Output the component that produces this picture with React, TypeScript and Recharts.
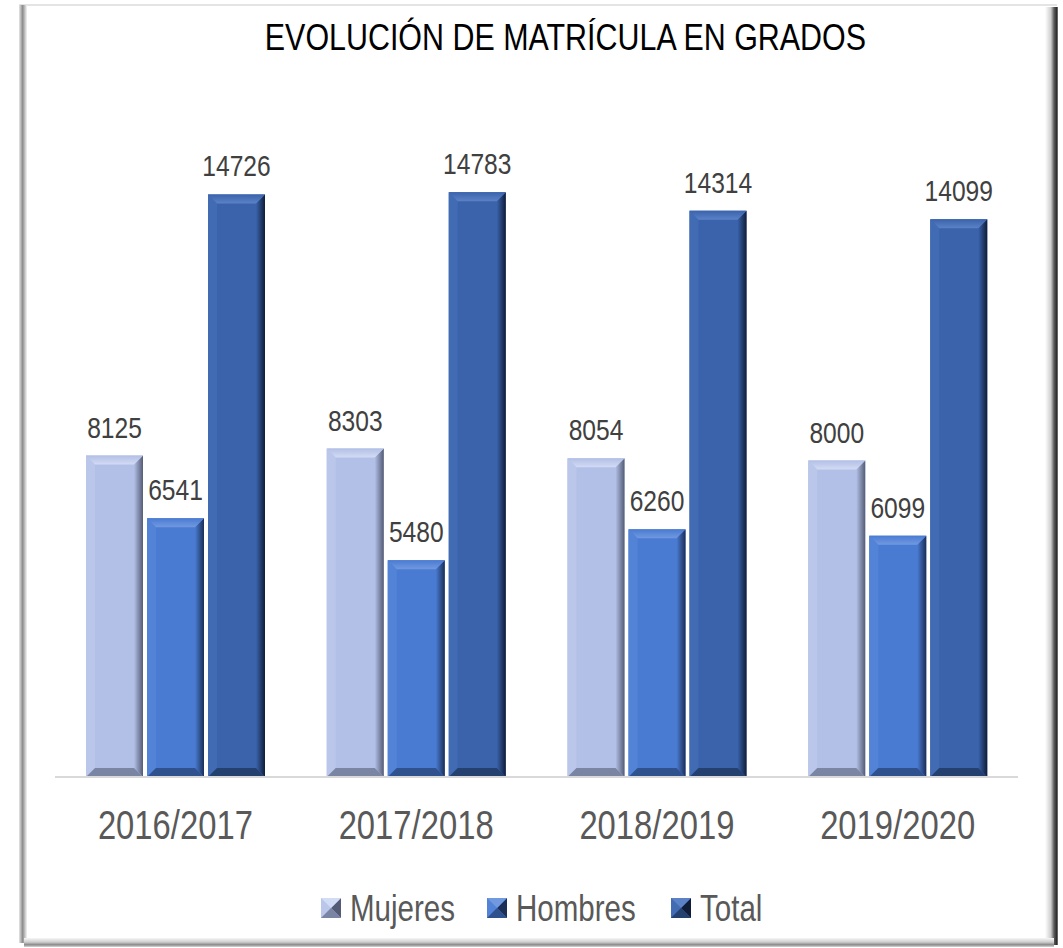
import React from 'react';
import { BarChart, Bar, XAxis, YAxis, Legend, LabelList } from 'recharts';

const years = ['2016/2017', '2017/2018', '2018/2019', '2019/2020'];
const mujeres = [8125, 8303, 8054, 8000];
const hombres = [6541, 5480, 6260, 6099];
const total = [14726, 14783, 14314, 14099];

const seriesNames = ['Mujeres', 'Hombres', 'Total'];

const data = years.map((year, i) => ({
  year,
  Mujeres: mujeres[i],
  Hombres: hombres[i],
  Total: total[i],
}));

// no narrow font installed, so Liberation Sans gets squeezed horizontally
const FONT = "'Liberation Sans', Arial, sans-serif";
const NARROW = 0.82;

// colours for each bevelled bar: face, top, left, right (dark), bottom
const palette: Record<string, { face: string; top: string; left: string; right: string; bottom: string }> = {
  Mujeres: { face: '#b2bfe6', top: '#d3dcf5', left: '#bac6ea', right: '#545c75', bottom: '#7a84a3' },
  Hombres: { face: '#4a7bd2', top: '#7199e0', left: '#5283d6', right: '#1b2f57', bottom: '#2f528f' },
  Total: { face: '#3a63ac', top: '#5b82c6', left: '#416bb3', right: '#0f1d38', bottom: '#24406f' },
};

function bevelShape(name: string) {
  const c = palette[name];
  return (props: any) => {
    const { x, y, width: w, height: h } = props;
    if (!h || h <= 0) return null;
    const b = Math.min(9, w / 4, h / 3);
    const gid = `grad-${name}`;
    const tid = `tgrad-${name}`;
    return (
      <g>
        <defs>
          <linearGradient id={gid} x1="0" y1="0" x2="1" y2="0">
            <stop offset="0" stopColor={c.face} />
            <stop offset="1" stopColor={c.right} />
          </linearGradient>
          <linearGradient id={tid} x1="0" y1="0" x2="0" y2="1">
            <stop offset="0" stopColor={c.face} />
            <stop offset="1" stopColor={c.top} />
          </linearGradient>
        </defs>
        <rect x={x} y={y} width={w} height={h} fill={c.face} />
        <polygon points={`${x},${y} ${x + b},${y + b} ${x + b},${y + h - b} ${x},${y + h}`} fill={c.left} />
        <polygon
          points={`${x + w},${y} ${x + w},${y + h} ${x + w - b},${y + h - b} ${x + w - b},${y + b}`}
          fill={`url(#${gid})`}
        />
        <polygon points={`${x},${y + h} ${x + w},${y + h} ${x + w - b},${y + h - b} ${x + b},${y + h - b}`} fill={c.bottom} />
        <polygon points={`${x},${y} ${x + w},${y} ${x + w - b},${y + b} ${x + b},${y + b}`} fill={`url(#${tid})`} />
      </g>
    );
  };
}

function YearTick(props: any) {
  const { x, y, payload } = props;
  return (
    <g transform={`translate(${x},${y})`}>
      <text
        transform={`scale(${NARROW},1)`}
        textAnchor="middle"
        dy="0.71em"
        fontSize={40}
        fill="#595959"
        fontFamily={FONT}
      >
        {payload.value}
      </text>
    </g>
  );
}

function ValueLabel(props: any) {
  const { x, y, width, value } = props;
  return (
    <g transform={`translate(${x + width / 2},${y - 18})`}>
      <text transform={`scale(${NARROW},1)`} textAnchor="middle" fontSize={30} fill="#404040" fontFamily={FONT}>
        {value}
      </text>
    </g>
  );
}

function LegendIcon({ name }: { name: string }) {
  const c = palette[name];
  const s = 20;
  return (
    <svg width={s} height={s} style={{ display: 'block' }}>
      <rect x={0} y={0} width={s} height={s} fill={c.face} />
      <polygon points={`0,0 ${s / 2},${s / 2} 0,${s}`} fill={c.left} />
      <polygon points={`${s},0 ${s},${s} ${s / 2},${s / 2}`} fill={c.right} />
      <polygon points={`0,${s} ${s},${s} ${s / 2},${s / 2}`} fill={c.bottom} />
      <polygon points={`0,0 ${s},0 ${s / 2},${s / 2}`} fill={c.top} />
    </svg>
  );
}

const legendTextWidth: Record<string, number> = { Mujeres: 106, Hombres: 124, Total: 66 };

function renderLegend() {
  return (
    <div
      style={{
        height: 40,
        display: 'flex',
        justifyContent: 'center',
        alignItems: 'center',
        paddingLeft: 14,
        fontFamily: FONT,
        fontSize: 36,
        color: '#595959',
      }}
    >
      {seriesNames.map((n, i) => (
        <div key={n} style={{ display: 'flex', alignItems: 'center', marginLeft: i === 0 ? 0 : 31 }}>
          <LegendIcon name={n} />
          <div style={{ marginLeft: 9, width: legendTextWidth[n], height: 40, whiteSpace: 'nowrap' }}>
            <span
              style={{
                display: 'inline-block',
                lineHeight: '40px',
                transform: `scaleX(${NARROW})`,
                transformOrigin: 'left center',
              }}
            >
              {n}
            </span>
          </div>
        </div>
      ))}
    </div>
  );
}

function Frame() {
  return (
    <>
      <div style={{ position: 'absolute', left: 19, top: 4, width: 1038, height: 2, background: '#e4e4e4' }} />
      <div
        style={{
          position: 'absolute',
          left: 19,
          top: 5,
          width: 8,
          height: 938,
          background: 'linear-gradient(to right, #e6e6e6, #8c8c8c 45%, #cfcfcf 80%, #f4f4f4)',
        }}
      />
      <div
        style={{
          position: 'absolute',
          left: 1045,
          top: 7,
          width: 13,
          height: 938,
          background: 'linear-gradient(to right, #ffffff, #cfcfcf 45%, #5a5a5a 70%, #2b2b2b 90%, #8a8a8a)',
        }}
      />
      <div
        style={{
          position: 'absolute',
          left: 24,
          top: 938,
          width: 1030,
          height: 9,
          background: 'linear-gradient(to bottom, #f6f6f6, #cfcfcf 45%, #8a8a8a 75%, #d8d8d8)',
        }}
      />
    </>
  );
}

export default function App() {
  return (
    <div style={{ position: 'absolute', left: 0, top: 0, width: 1063, height: 948, background: '#fff' }}>
      <Frame />
      <div
        style={{
          position: 'absolute',
          left: 0,
          width: 1131,
          top: 14,
          textAlign: 'center',
          fontFamily: FONT,
          fontSize: 36,
          lineHeight: '48px',
          color: '#000',
          transform: 'scaleX(0.845)',
          transformOrigin: '565px 0',
          whiteSpace: 'nowrap',
        }}
      >
        EVOLUCIÓN DE MATRÍCULA EN GRADOS
      </div>
      <div style={{ position: 'absolute', left: 0, top: 0 }}>
        <BarChart
          width={1063}
          height={948}
          data={data}
          margin={{ top: 144, right: 45, left: 55, bottom: 20 }}
          barSize={57}
          barGap={4}
        >
          <XAxis
            dataKey="year"
            axisLine={{ stroke: '#d9d9d9', strokeWidth: 2 }}
            tickLine={false}
            tickSize={0}
            tickMargin={34}
            height={111}
            interval={0}
            tick={<YearTick />}
          />
          <YAxis hide domain={[0, 16000]} />
          <Legend verticalAlign="bottom" content={renderLegend} />
          {seriesNames.map((n) => (
            <Bar key={n} dataKey={n} name={n} fill={palette[n].face} shape={bevelShape(n)} isAnimationActive={false}>
              <LabelList dataKey={n} position="top" content={<ValueLabel />} />
            </Bar>
          ))}
        </BarChart>
      </div>
    </div>
  );
}
